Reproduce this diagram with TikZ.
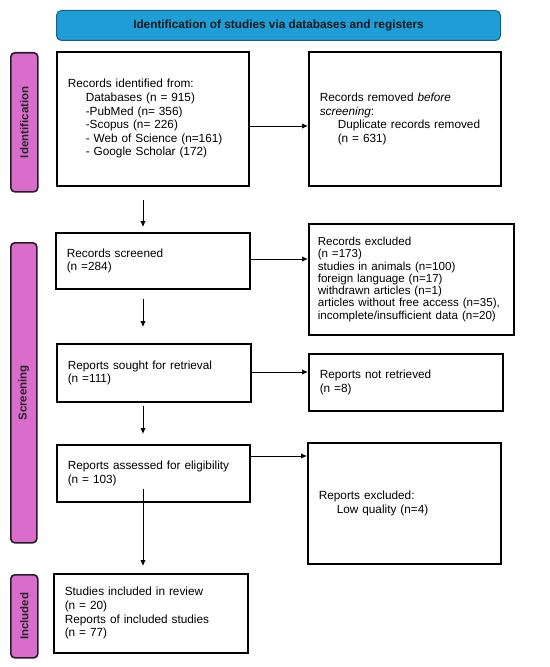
\documentclass[tikz,border=0pt]{standalone}
\usepackage{fontspec}
\setmainfont{Liberation Sans}
\usetikzlibrary{arrows.meta}
\definecolor{bannerblue}{HTML}{1E9DD6}
\definecolor{bannerline}{HTML}{1A5F85}
\definecolor{sidepink}{HTML}{D96DCC}
\definecolor{sideline}{HTML}{2A1A2A}
\tikzset{
  box/.style={draw=black, line width=1.6bp, align=left, anchor=north west,
    inner xsep=11bp, inner ysep=0pt, font=\fontsize{11.8bp}{13.6bp}\selectfont},
  side/.style={draw=sideline, fill=sidepink, line width=1.6bp, rounded corners=4bp,
    anchor=north west, inner sep=0pt},
  sidetext/.style={rotate=90, font=\bfseries\fontsize{11.5bp}{13bp}\selectfont, text=black!85},
  arr/.style={-{Latex[length=6bp,width=5.5bp]}, line width=0.9bp, black},
}
\newcommand{\ind}{\hspace*{18bp}}
\begin{document}
\begin{tikzpicture}[x=1bp,y=1bp]
\useasboundingbox (0,0) rectangle (550,-667);
% banner
\node[draw=bannerline, fill=bannerblue, line width=1bp, rounded corners=5bp, anchor=north west,
  minimum width=444bp, minimum height=30bp, inner sep=0pt, text=black!90,
  font=\bfseries\fontsize{11.8bp}{13bp}\selectfont] (banner) at (56,-10)
  {Identification of studies via databases and registers};
% side labels
\node[side, minimum width=27bp, minimum height=139bp] (sid) at (10,-52) {};
\node[sidetext] (sidt) at (sid.center) {Identification};
\node[side, minimum width=26bp, minimum height=300bp] (ssc) at (10,-242) {};
\node[sidetext] (ssct) at (ssc.center) {Screening};
\node[side, minimum width=27bp, minimum height=83bp] (sin) at (10,-574) {};
\node[sidetext] (sint) at (sin.center) {Included};
% boxes
\node[box, minimum width=192bp, minimum height=134bp, text width=170bp] (b1) at (56,-51)
  {Records identified from:\\ \ind Databases (n = 915)\\ \ind -PubMed (n= 356)\\ \ind -Scopus (n= 226)\\ \ind - Web of Science (n=161)\\ \ind - Google Scholar (172)};
\node[box, minimum width=192bp, minimum height=134bp, text width=170bp] (b2) at (308,-51)
  {Records removed \textit{before}\\ \textit{screening}:\\ \ind Duplicate records removed\\ \ind (n = 631)\\[2bp]};
\node[box, minimum width=194bp, minimum height=56bp, text width=172bp] (b3) at (55,-232)
  {Records screened\\ (n =284)\\[3bp]};
\node[box, minimum width=205bp, minimum height=111bp, text width=187bp, inner xsep=9bp,
  font=\fontsize{11.6bp}{12.3bp}\selectfont] (b4) at (308,-223)
  {Records excluded\\ (n =173)\\ studies in animals (n=100)\\ foreign language (n=17)\\ withdrawn articles (n=1)\\ articles without free access (n=35),\\ incomplete/insufficient data (n=20)};
\node[box, minimum width=194bp, minimum height=58bp, text width=172bp] (b5) at (56,-343)
  {Reports sought for retrieval\\ (n =111)};
\node[box, minimum width=194bp, minimum height=57bp, text width=172bp] (b6) at (308,-353)
  {Reports not retrieved\\ (n =8)};
\node[box, minimum width=193bp, minimum height=57bp, text width=171bp] (b7) at (56,-444)
  {Reports assessed for eligibility\\ (n = 103)};
\node[box, minimum width=193bp, minimum height=121bp, text width=171bp] (b8) at (307,-442)
  {Reports excluded:\\ \ind Low quality (n=4)};
\node[box, minimum width=194bp, minimum height=79bp, text width=172bp] (b9) at (53,-573)
  {Studies included in review\\ (n = 20)\\ Reports of included studies\\ (n = 77)};
% horizontal arrows
\draw[arr] (b1.east |- 0,-126) -- (b2.west |- 0,-126);
\draw[arr] (b3.east |- 0,-259) -- (b4.west |- 0,-259);
\draw[arr] (b5.east |- 0,-372) -- (b6.west |- 0,-372);
\draw[arr] (b7.east |- 0,-456) -- (b8.west |- 0,-456);
% vertical arrows
\draw[arr, shorten <=13bp, shorten >=5bp] (b1.south -| 143,0) -- (b3.north -| 143,0);
\draw[arr, shorten <=9bp, shorten >=16bp] (b3.south -| 143,0) -- (b5.north -| 143,0);
\draw[arr, shorten <=3bp, shorten >=10bp] (b5.south -| 143,0) -- (b7.north -| 143,0);
\draw[arr, shorten <=-14bp, shorten >=7bp] (b7.south -| 143,0) -- (b9.north -| 143,0);
\end{tikzpicture}
\end{document}
